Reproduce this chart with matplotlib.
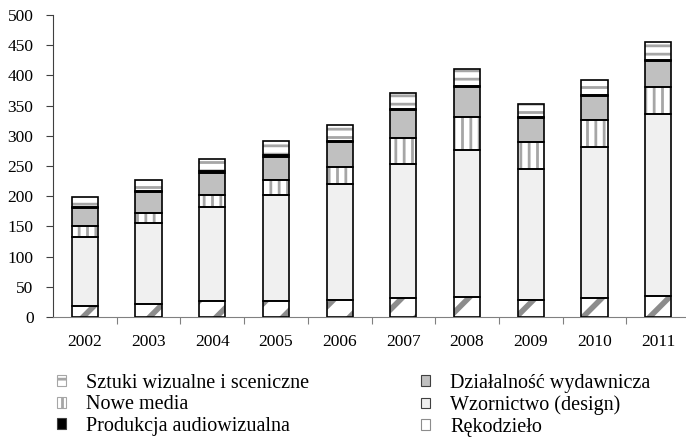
import matplotlib
matplotlib.use('Agg')
import numpy as np
from matplotlib import pyplot as plt
from matplotlib.patches import Patch

plt.rcParams['font.family'] = ['Liberation Serif', 'DejaVu Serif']
plt.rcParams['hatch.linewidth'] = 2.0

years = ['2002', '2003', '2004', '2005', '2006', '2007', '2008', '2009', '2010', '2011']

# values, bottom segment first
rekodzielo = [17.6, 21.5, 26.0, 27.0, 28.1, 31.4, 33.7, 27.6, 32.0, 35.3]
wzornictwo = [114.3, 133.6, 155.6, 174.5, 191.5, 221.4, 243.3, 216.9, 248.9, 301.3]
nowe_media = [18.8, 17.4, 20.4, 25.3, 28.2, 44.1, 53.6, 44.7, 44.7, 44.2]
wydawnicza = [29.8, 33.9, 37.0, 38.6, 41.9, 45.3, 49.6, 39.7, 40.3, 43.0]
audiowizualna = [2.0, 2.0, 2.0, 2.0, 2.0, 2.0, 2.0, 2.0, 2.0, 2.0]
sztuki = [16.2, 18.4, 21.0, 24.0, 25.6, 27.2, 27.8, 21.2, 23.9, 29.0]

labels = ['Rękodzieło', 'Wzornictwo (design)', 'Nowe media',
          'Działalność wydawnicza', 'Produkcja audiowizualna',
          'Sztuki wizualne i sceniczne']
series = [rekodzielo, wzornictwo, nowe_media, wydawnicza, audiowizualna, sztuki]
# fill, hatch, hatch colour, hatch width
styles = [('white', '/', '#8c8c8c', 4.0),
          ('#f0f0f0', None, None, 1.0),
          ('white', '||', '#a6a6a6', 2.0),
          ('#c0c0c0', None, None, 1.0),
          ('black', None, None, 1.0),
          ('white', '--', '#a6a6a6', 2.0)]

fig = plt.figure(figsize=(6.86, 4.41), dpi=100)
ax = fig.add_axes([53 / 686, 124 / 441, 637 / 686, 302 / 441])

x = np.arange(len(years))
w = 0.41
bottom = np.zeros(len(years))
for vals, (fc, hatch, hc, hw) in zip(series, styles):
    vals = np.array(vals)
    ax.bar(x, vals, w, bottom=bottom, color=fc, linewidth=0, zorder=2)
    if hatch:
        with plt.rc_context({'hatch.linewidth': hw}):
            ax.bar(x, vals, w, bottom=bottom, fill=False, hatch=hatch,
                   edgecolor=hc, linewidth=0, zorder=3)
    ax.bar(x, vals, w, bottom=bottom, fill=False, edgecolor='black',
           linewidth=1.2, zorder=4)
    bottom += vals

ax.set_xlim(-0.5, 9.5)
ax.set_ylim(0, 500)
ax.set_yticks(np.arange(0, 501, 50))
ax.set_xticks(np.arange(0.5, 9.5, 1))
ax.set_xticklabels([])
ax.set_xticks(x, minor=True)
ax.set_xticklabels(years, minor=True)
ax.tick_params(axis='x', which='minor', length=0, pad=12, labelsize=12.5)
ax.tick_params(axis='x', which='major', length=5, color='#808080', direction='out')
ax.tick_params(axis='y', length=5, color='#404040', labelsize=12.5, pad=9)
for s in ['top', 'right']:
    ax.spines[s].set_visible(False)
ax.spines['left'].set_color('#404040')
ax.spines['bottom'].set_color('#808080')

def handle(i):
    fc, hatch, hc, hw = styles[i]
    return Patch(facecolor=fc, edgecolor=hc if hc else '#404040', hatch=hatch, linewidth=0.8)

col1 = [5, 2, 4]
col2 = [3, 1, 0]
for idx, xpos in [(col1, 57 / 686), (col2, 421 / 686)]:
    fig.legend([handle(i) for i in idx], [labels[i] for i in idx],
               loc='upper left', bbox_to_anchor=(xpos, 67 / 441),
               frameon=False, fontsize=14.5, handlelength=0.45,
               handleheight=0.45, handletextpad=1.0, labelspacing=0.12,
               borderpad=0, borderaxespad=0)

fig.savefig('out.png', dpi=100)
